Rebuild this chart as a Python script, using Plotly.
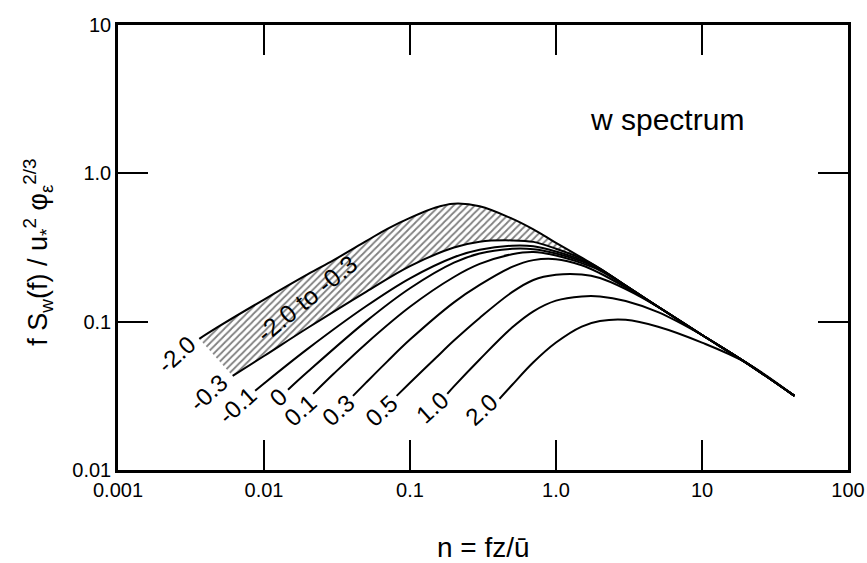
import math
import plotly.graph_objects as go

# ---- data (n = fz/u, S = f S_w / u*^2 phi^(2/3)) ----
# shared high-frequency tail
n_tail = [3, 5, 10, 20, 43]
s_tail = [0.175, 0.126, 0.0813, 0.053, 0.0316]

# z/L = -2.0 (upper edge of hatched band)
n_m20 = [0.0036, 0.005, 0.01, 0.02, 0.03, 0.05, 0.07, 0.1, 0.15, 0.2, 0.3, 0.5, 0.7, 1, 1.5, 2]
s_m20 = [0.0767, 0.094, 0.141, 0.209, 0.260, 0.349, 0.423, 0.501, 0.589, 0.624, 0.600, 0.495, 0.419, 0.340, 0.270, 0.228]
# z/L = -0.3 (lower edge of hatched band)
n_m03 = [0.0061, 0.01, 0.02, 0.05, 0.1, 0.2, 0.3, 0.5, 0.7, 1, 1.5, 2]
s_m03 = [0.0431, 0.0587, 0.0910, 0.159, 0.237, 0.316, 0.346, 0.353, 0.345, 0.310, 0.266, 0.228]
# z/L = -0.1
n_m01 = [0.0087, 0.01, 0.02, 0.05, 0.1, 0.2, 0.3, 0.5, 0.7, 1, 1.5, 2]
s_m01 = [0.0342, 0.0383, 0.0658, 0.127, 0.196, 0.272, 0.305, 0.325, 0.322, 0.297, 0.260, 0.226]
# z/L = 0
n_p00 = [0.0146, 0.02, 0.05, 0.1, 0.2, 0.3, 0.5, 0.7, 1, 1.5, 2]
s_p00 = [0.0348, 0.0461, 0.1005, 0.168, 0.250, 0.288, 0.310, 0.308, 0.288, 0.255, 0.225]
# z/L = 0.1
n_p01 = [0.0217, 0.03, 0.05, 0.1, 0.2, 0.3, 0.5, 0.7, 1, 1.5, 2, 3]
s_p01 = [0.0326, 0.0445, 0.0711, 0.126, 0.200, 0.245, 0.285, 0.295, 0.279, 0.248, 0.221, 0.174]
# z/L = 0.3
n_p03 = [0.0407, 0.05, 0.07, 0.1, 0.2, 0.3, 0.5, 0.7, 1, 1.5, 2, 3]
s_p03 = [0.0316, 0.0388, 0.0540, 0.0757, 0.135, 0.177, 0.234, 0.260, 0.264, 0.240, 0.212, 0.170]
# z/L = 0.5
n_p05 = [0.081, 0.1, 0.15, 0.2, 0.3, 0.5, 0.7, 1, 1.5, 2, 3]
s_p05 = [0.0316, 0.0387, 0.0569, 0.0746, 0.106, 0.158, 0.191, 0.207, 0.208, 0.197, 0.166]
# z/L = 1.0
n_p10 = [0.18, 0.2, 0.3, 0.5, 0.7, 1, 1.5, 2, 3, 5]
s_p10 = [0.0326, 0.0366, 0.0556, 0.0912, 0.1175, 0.1387, 0.148, 0.148, 0.138, 0.116]
# z/L = 2.0
n_p20 = [0.41, 0.5, 0.7, 1, 1.5, 2, 3, 5, 10]
s_p20 = [0.0302, 0.0374, 0.0532, 0.0723, 0.0927, 0.101, 0.103, 0.0925, 0.0723]

curve_labels = ["-2.0", "-0.3", "-0.1", "0", "0.1", "0.3", "0.5", "1.0", "2.0"]
band_label = "-2.0 to -0.3"
title_text = "w spectrum"

x_tickvals = [0.001, 0.01, 0.1, 1, 10, 100]
x_ticktext = ["0.001", "0.01", "0.1", "1.0", "10", "100"]
y_tickvals = [0.01, 0.1, 1, 10]
y_ticktext = ["0.01", "0.1", "1.0", "10"]


def with_tail(n, s):
    nn, ss = list(n), list(s)
    for a, b in zip(n_tail, s_tail):
        if a > nn[-1]:
            nn.append(a)
            ss.append(b)
    return nn, ss


curves = [(n_m20, s_m20), (n_m03, s_m03), (n_m01, s_m01), (n_p00, s_p00),
          (n_p01, s_p01), (n_p03, s_p03), (n_p05, s_p05), (n_p10, s_p10), (n_p20, s_p20)]

FONT = "Liberation Sans, Arial, Helvetica, sans-serif"
fig = go.Figure()

line = dict(color="black", width=2, shape="spline", smoothing=1.0)

# lower band edge first, then upper edge filled down to it with hatching
nl, sl = with_tail(n_m03, s_m03)
fig.add_trace(go.Scatter(x=nl, y=sl, mode="lines", line=line, hoverinfo="skip"))
nu, su = with_tail(n_m20, s_m20)
fig.add_trace(go.Scatter(x=nu, y=su, mode="lines", line=line, fill="tonexty",
                         fillcolor="white",
                         fillpattern=dict(shape="/", fgcolor="black", bgcolor="white",
                                          size=5, solidity=0.35),
                         hoverinfo="skip"))
for n, s in curves[2:]:
    nn, ss = with_tail(n, s)
    fig.add_trace(go.Scatter(x=nn, y=ss, mode="lines", line=line, hoverinfo="skip"))

# curve labels near the low-frequency ends
shifts = [(-23, -16), (-24, -17), (-18, -15), (-10, -8), (-13, -17),
          (-15, -15), (-15, -15), (-15, -14), (-18, -11)]
for (n, s), lab, (dx, dy) in zip(curves, curve_labels, shifts):
    fig.add_annotation(x=math.log10(n[0]), y=math.log10(s[0]), xref="x", yref="y",
                       text=lab, showarrow=False, textangle=-42,
                       xshift=dx, yshift=dy, xanchor="center", yanchor="middle",
                       font=dict(family=FONT, size=24, color="black"))

fig.add_annotation(x=math.log10(0.0197), y=math.log10(0.145), xref="x", yref="y",
                   text=band_label, showarrow=False, textangle=-39,
                   xanchor="center", yanchor="middle",
                   font=dict(family=FONT, size=25, color="black"))

fig.add_annotation(x=0.752, y=0.787, xref="paper", yref="paper", text=title_text,
                   showarrow=False, xanchor="center", yanchor="middle",
                   font=dict(family=FONT, size=30, color="black"))

fig.add_annotation(x=-0.110, y=0.49, xref="paper", yref="paper",
                   text="f S<sub>w</sub>(f) / u<sub>*</sub><sup>2</sup> \u03c6<sub>\u03b5</sub><sup>2/3</sup>",
                   showarrow=False, textangle=-90, xanchor="center", yanchor="middle",
                   font=dict(family=FONT, size=27, color="black"))

fig.add_annotation(x=0.500, y=-0.175, xref="paper", yref="paper",
                   text="n = fz/\u016b", showarrow=False, xanchor="center", yanchor="middle",
                   font=dict(family=FONT, size=28, color="black"))

axis_common = dict(showline=True, linecolor="black", linewidth=2.5, mirror="ticks",
                   ticks="inside", ticklen=30, tickwidth=1.5, tickcolor="black",
                   showgrid=False, zeroline=False, automargin=False,
                   tickfont=dict(family=FONT, size=20, color="black"))

fig.update_xaxes(type="log", range=[-3, 2], tickvals=x_tickvals, ticktext=x_ticktext,
                 **axis_common)
fig.update_yaxes(type="log", range=[-2, 1], tickvals=y_tickvals, ticktext=y_ticktext,
                 **axis_common)

fig.update_layout(width=867, height=563, showlegend=False,
                  margin=dict(l=118, r=19, t=25, b=93, autoexpand=False),
                  plot_bgcolor="white", paper_bgcolor="white")

# remove the page's default body margin so the figure fills the window exactly
fig.write_html("out.html",
               config={"displayModeBar": False},
               post_script="document.body.style.margin='0';"
                           "document.body.style.overflow='hidden';")
